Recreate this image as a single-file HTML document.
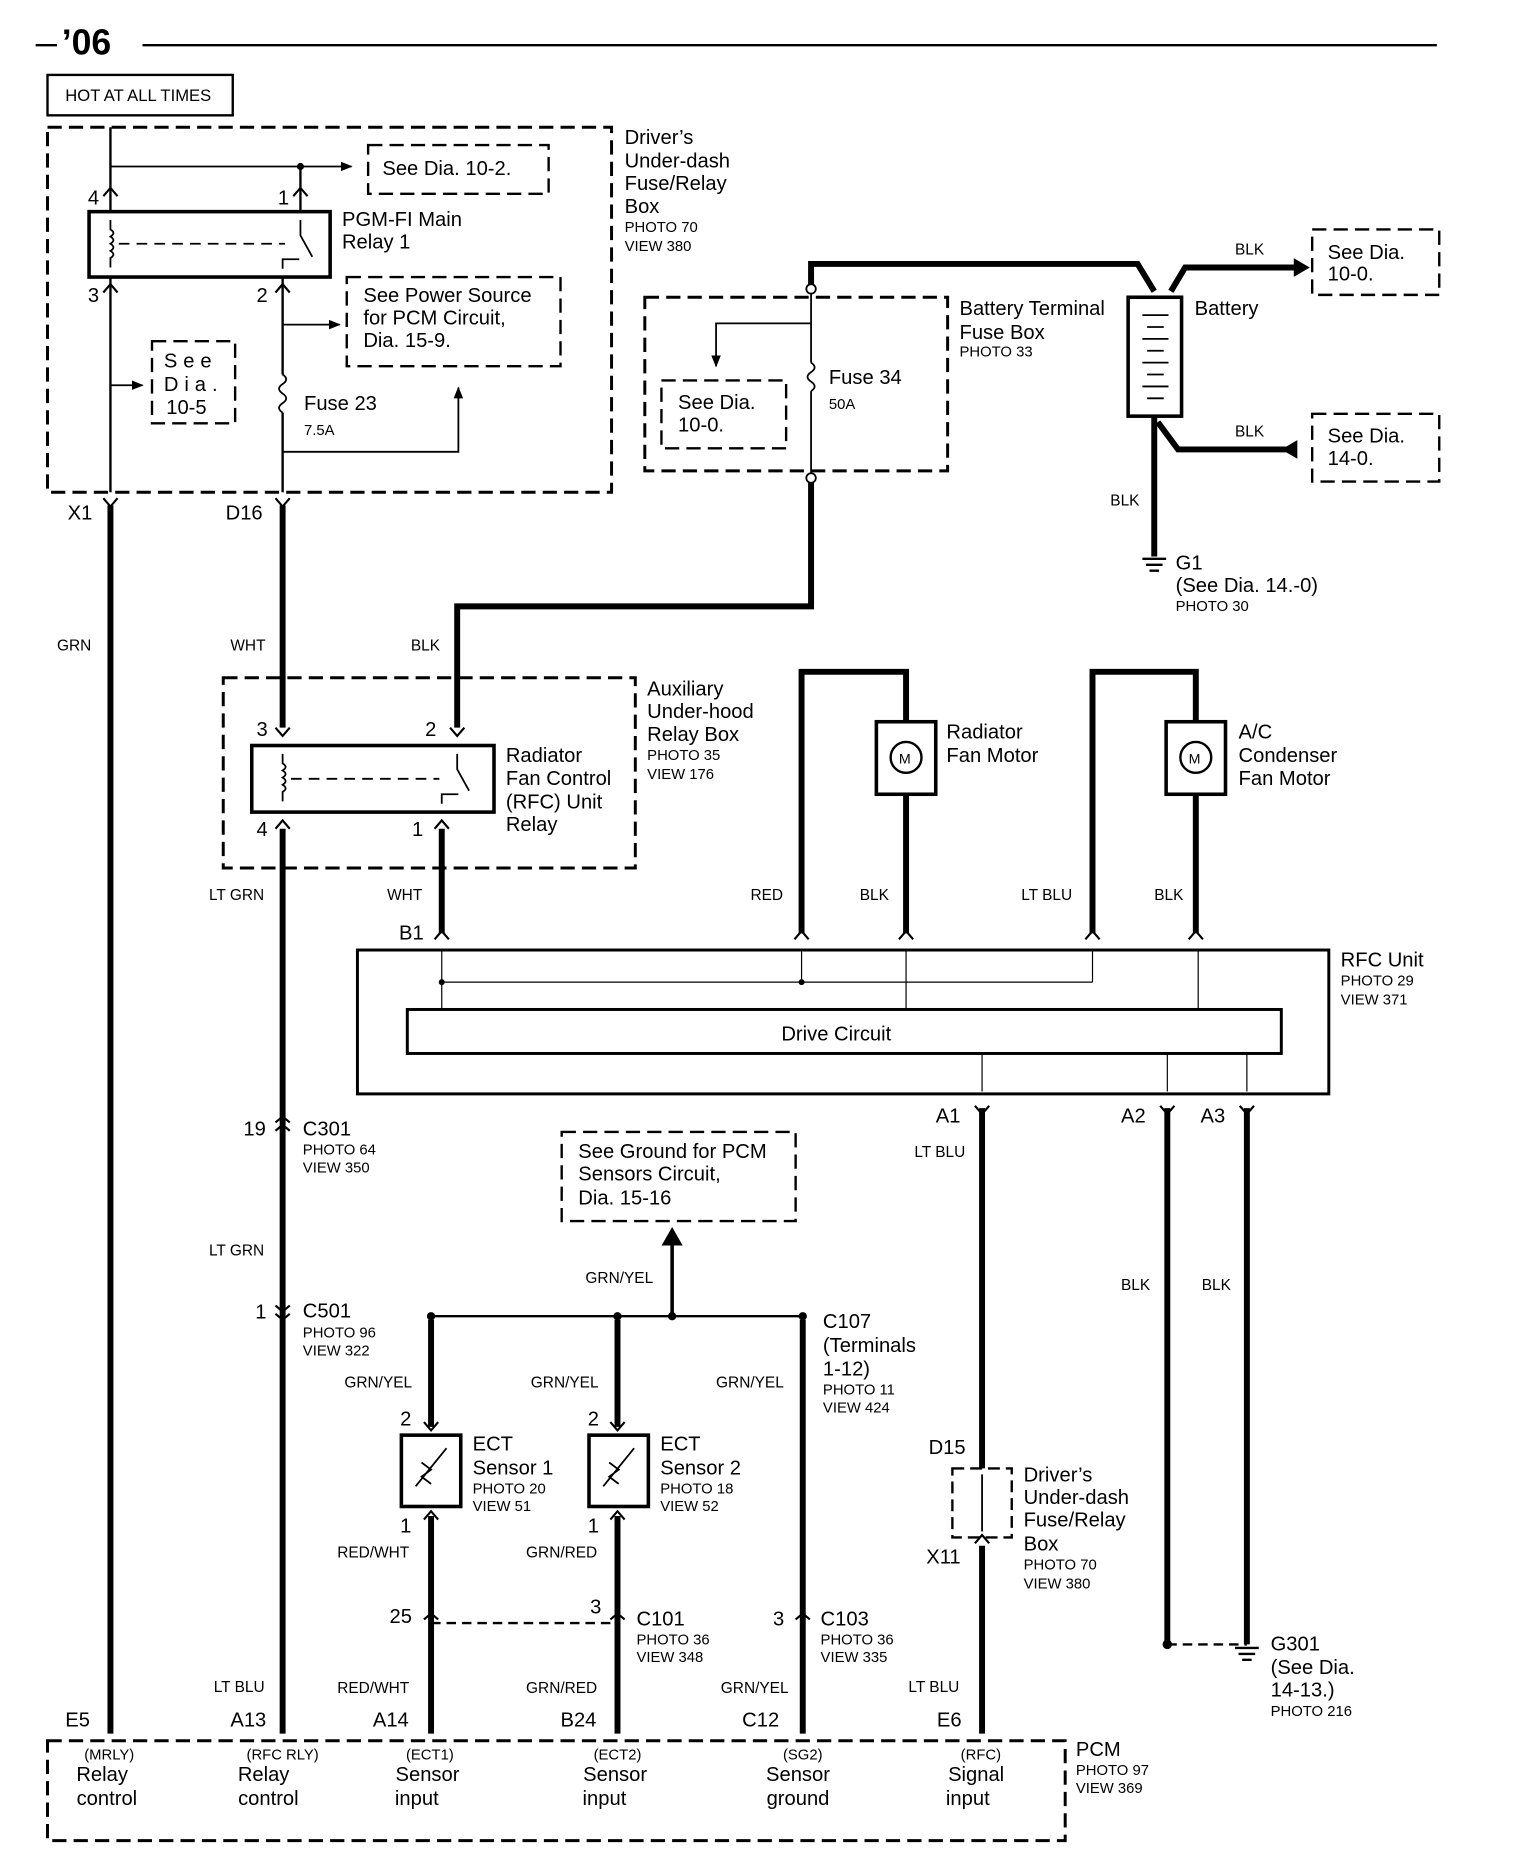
<!DOCTYPE html>
<html><head><meta charset="utf-8"><style>
html,body{margin:0;padding:0;background:#fff}
svg{display:block}
text{font-family:"Liberation Sans",sans-serif;fill:#000}
.m{font-size:17px}.s{font-size:12.5px}.w{font-size:13px}
</style></head><body>
<svg width="1520" height="1862" viewBox="0 0 1280 1566" preserveAspectRatio="none" xmlns="http://www.w3.org/2000/svg">
<defs>
<marker id="ar" markerWidth="10" markerHeight="10" refX="9" refY="5" orient="auto" markerUnits="userSpaceOnUse"><path d="M0,1 L10,5 L0,9 z"/></marker>
</defs>
<g fill="none" stroke="#000">
<line x1="30" y1="38" x2="48" y2="38" stroke-width="2"/>
<line x1="120" y1="38" x2="1210" y2="38" stroke-width="2"/>
<rect x="40" y="63" width="156" height="34" stroke-width="2"/>
<rect x="40" y="107" width="475" height="307" stroke-width="2.5" stroke-dasharray="12,6"/>
<line x1="93" y1="107" x2="93" y2="178" stroke-width="2"/>
<line x1="93" y1="140" x2="296" y2="140" stroke-width="1.5" marker-end="url(#ar)"/>
<line x1="253" y1="140" x2="253" y2="178" stroke-width="2"/>
<rect x="310" y="122" width="152" height="41" stroke-width="2" stroke-dasharray="12,6"/>
<rect x="75" y="178" width="203" height="55" stroke-width="3"/>
<line x1="100" y1="205" x2="240" y2="205" stroke-width="1.5" stroke-dasharray="9,6"/>
<path d="M93,185 v8 q5,3 0,6 q5,3 0,6 q5,3 0,6 q5,3 0,6 v8" stroke-width="1.5"/>
<path d="M253,185 v13 l10,18 M238,226 v-8 h14" stroke-width="1.5"/>
<line x1="93" y1="233" x2="93" y2="414" stroke-width="2"/>
<line x1="238" y1="233" x2="238" y2="315" stroke-width="2"/>
<path d="M238,315 q6,4 0,8 q-6,4 0,8 q6,4 0,8 q-6,4 0,8" stroke-width="1.5"/>
<line x1="238" y1="347" x2="238" y2="414" stroke-width="2"/>
<line x1="238" y1="273" x2="286" y2="273" stroke-width="1.5" marker-end="url(#ar)"/>
<rect x="292" y="233" width="180" height="75" stroke-width="2" stroke-dasharray="12,6"/>
<line x1="93" y1="324" x2="120" y2="324" stroke-width="1.5" marker-end="url(#ar)"/>
<rect x="128" y="287" width="70" height="69" stroke-width="2" stroke-dasharray="12,6"/>
<path d="M238,380 H386 V326" stroke-width="1.5" marker-end="url(#ar)"/>
<line x1="93" y1="425" x2="93" y2="1458" stroke-width="5"/>
<line x1="238" y1="425" x2="238" y2="612" stroke-width="5"/>
<line x1="238" y1="697" x2="238" y2="1458" stroke-width="5"/>
<path d="M683,243 V222 H958 L972,245" stroke-width="5"/>
<path d="M986,245 L998,225 H1090" stroke-width="5"/>
<path d="M1090,218 l12,7 l-12,7z" fill="#000"/>
<rect x="1105" y="193" width="107" height="55" stroke-width="2" stroke-dasharray="12,6"/>
<rect x="950" y="250" width="45" height="100" stroke-width="3"/>
<path d="M962,265 h22 M966,275 h14 M962,285 h22 M966,295 h14 M962,305 h22 M966,315 h14 M962,325 h22 M966,335 h14" stroke-width="1.5"/>
<line x1="972" y1="350" x2="972" y2="468" stroke-width="5"/>
<path d="M975,355 L992,378 H1092" stroke-width="5"/>
<path d="M1092,371 l-12,7 l12,7z" fill="#000"/>
<rect x="1105" y="348" width="107" height="57" stroke-width="2" stroke-dasharray="12,6"/>
<path d="M962,470 h20 M965,475 h14 M968,480 h8" stroke-width="2"/>
<rect x="543" y="250" width="255" height="146" stroke-width="2.5" stroke-dasharray="12,6"/>
<line x1="683" y1="247" x2="683" y2="305" stroke-width="1.5"/>
<path d="M683,305 q6,4 0,8 q-6,4 0,8 q6,4 0,8" stroke-width="1.5"/>
<line x1="683" y1="329" x2="683" y2="398" stroke-width="1.5"/>
<circle cx="683" cy="243" r="4" fill="#fff" stroke-width="1.5"/>
<circle cx="683" cy="402" r="4" fill="#fff" stroke-width="1.5"/>
<path d="M683,272 H603 V308" stroke-width="1.5" marker-end="url(#ar)"/>
<rect x="557" y="320" width="105" height="57" stroke-width="2" stroke-dasharray="12,6"/>
<path d="M683,406 V510 H385 V612" stroke-width="5"/>
<rect x="188" y="570" width="347" height="160" stroke-width="2.5" stroke-dasharray="12,6"/>
<rect x="212" y="627" width="204" height="56" stroke-width="3"/>
<line x1="245" y1="655" x2="370" y2="655" stroke-width="1.5" stroke-dasharray="9,6"/>
<path d="M238,634 v8 q5,3 0,6 q5,3 0,6 q5,3 0,6 q5,3 0,6 v8" stroke-width="1.5"/>
<path d="M385,634 v13 l10,18 M372,676 v-8 h14" stroke-width="1.5"/>
<line x1="372" y1="697" x2="372" y2="785" stroke-width="5"/>
<path d="M675,785 V565 H763 V607" stroke-width="5"/>
<rect x="738" y="607" width="50" height="61" stroke-width="3"/>
<circle cx="763" cy="637" r="13" stroke-width="2"/>
<line x1="763" y1="668" x2="763" y2="785" stroke-width="5"/>
<path d="M920,785 V565 H1007 V607" stroke-width="5"/>
<rect x="982" y="607" width="50" height="61" stroke-width="3"/>
<circle cx="1007" cy="637" r="13" stroke-width="2"/>
<line x1="1007" y1="668" x2="1007" y2="785" stroke-width="5"/>
<rect x="301" y="799" width="818" height="121" stroke-width="2.5"/>
<rect x="343" y="849" width="736" height="37" stroke-width="2.5"/>
<path d="M372,800 V849 M372,826 H920 M675,800 V826 M763,800 V849 M920,800 V826 M1009,800 V849" stroke-width="1"/>
<path d="M827,886 V918 M983,886 V918 M1050,886 V918" stroke-width="1"/>
<line x1="827" y1="932" x2="827" y2="1235" stroke-width="5"/>
<rect x="802" y="1235" width="50" height="58" stroke-width="2" stroke-dasharray="10,5"/>
<line x1="827" y1="1240" x2="827" y2="1288" stroke-width="1.5"/>
<line x1="827" y1="1300" x2="827" y2="1458" stroke-width="5"/>
<line x1="983" y1="932" x2="983" y2="1383" stroke-width="5"/>
<line x1="1050" y1="932" x2="1050" y2="1383" stroke-width="5"/>
<line x1="983" y1="1383" x2="1050" y2="1383" stroke-width="2" stroke-dasharray="8,5"/>
<path d="M1040,1386 h20 M1043,1391 h14 M1046,1396 h8" stroke-width="2"/>
<line x1="363" y1="1107" x2="676" y2="1107" stroke-width="2"/>
<line x1="566" y1="1107" x2="566" y2="1045" stroke-width="3"/>
<path d="M558,1047 l8,-14 l8,14z" fill="#000"/>
<rect x="473" y="952" width="197" height="75" stroke-width="2" stroke-dasharray="12,6"/>
<line x1="363" y1="1110" x2="363" y2="1200" stroke-width="5"/>
<line x1="520" y1="1110" x2="520" y2="1200" stroke-width="5"/>
<line x1="676" y1="1110" x2="676" y2="1458" stroke-width="5"/>
<rect x="338" y="1207" width="50" height="60" stroke-width="3"/>
<rect x="496" y="1207" width="50" height="60" stroke-width="3"/>
<path d="M350,1250 L376,1218 M355,1230 l8,6 l-8,6 l8,6" stroke-width="1.5"/>
<path d="M508,1250 L534,1218 M513,1230 l8,6 l-8,6 l8,6" stroke-width="1.5"/>
<line x1="363" y1="1275" x2="363" y2="1458" stroke-width="5"/>
<line x1="520" y1="1275" x2="520" y2="1458" stroke-width="5"/>
<line x1="363" y1="1365" x2="520" y2="1365" stroke-width="2" stroke-dasharray="8,5"/>
<rect x="40" y="1464" width="857" height="84" stroke-width="2.5" stroke-dasharray="12,6"/>
<path d="M87,419 l6,7 l6,-7 M232,419 l6,7 l6,-7 M87,165 l6,-7 l6,7 M247,165 l6,-7 l6,7 M87,246 l6,-7 l6,7 M232,246 l6,-7 l6,7 M232,612 l6,7 l6,-7 M379,612 l6,7 l6,-7 M232,697 l6,-7 l6,7 M366,697 l6,-7 l6,7 M366,790 l6,-7 l6,7 M669,790 l6,-7 l6,7 M757,790 l6,-7 l6,7 M914,790 l6,-7 l6,7 M1001,790 l6,-7 l6,7 M821,930 l6,7 l6,-7 M977,930 l6,7 l6,-7 M1044,930 l6,7 l6,-7 M232,944 l6,-5 l6,5 M232,951 l6,-5 l6,5 M232,1098 l6,5 l6,-5 M232,1105 l6,5 l6,-5 M357,1196 l6,7 l6,-7 M514,1196 l6,7 l6,-7 M357,1278 l6,-7 l6,7 M514,1278 l6,-7 l6,7 M357,1362 l6,-5 l6,5 M514,1362 l6,-5 l6,5 M670,1362 l6,-5 l6,5 M821,1298 l6,-7 l6,7" stroke-width="1.8"/>
</g>
<g fill="#000">
<circle cx="253" cy="140" r="3"/><circle cx="363" cy="1107" r="3.5"/><circle cx="520" cy="1107" r="3.5"/><circle cx="566" cy="1107" r="3.5"/><circle cx="676" cy="1107" r="3.5"/><circle cx="983" cy="1383" r="4"/><circle cx="372" cy="826" r="2.5"/><circle cx="675" cy="826" r="2.5"/>
</g>
<text x="52" y="46" style="font-size:30px;font-weight:bold">’06</text>
<text x="55" y="85" class="s" style="font-size:14px">HOT AT ALL TIMES</text>
<text x="526" y="121" class="m">Driver’s</text><text x="526" y="141" class="m">Under-dash</text><text x="526" y="160" class="m">Fuse/Relay</text><text x="526" y="179" class="m">Box</text>
<text x="526" y="195" class="s">PHOTO 70</text><text x="526" y="211" class="s">VIEW 380</text>
<text x="322" y="147" class="m">See Dia. 10-2.</text>
<text x="74" y="172" class="m">4</text><text x="234" y="172" class="m">1</text><text x="74" y="254" class="m">3</text><text x="216" y="254" class="m">2</text>
<text x="288" y="190" class="m">PGM-FI Main</text><text x="288" y="209" class="m">Relay 1</text>
<text x="306" y="254" class="m">See Power Source</text><text x="306" y="273" class="m">for PCM Circuit,</text><text x="306" y="292" class="m">Dia. 15-9.</text>
<text x="138" y="309" class="m" style="letter-spacing:5px">See</text><text x="138" y="329" class="m" style="letter-spacing:5px">Dia.</text><text x="140" y="348" class="m">10-5</text>
<text x="256" y="345" class="m">Fuse 23</text><text x="256" y="366" class="s">7.5A</text>
<text x="57" y="437" class="m">X1</text><text x="190" y="437" class="m">D16</text>
<text x="1040" y="214" class="w">BLK</text><text x="1118" y="218" class="m">See Dia.</text><text x="1118" y="236" class="m">10-0.</text>
<text x="808" y="265" class="m">Battery Terminal</text><text x="808" y="285" class="m">Fuse Box</text><text x="808" y="300" class="s">PHOTO 33</text>
<text x="1006" y="265" class="m">Battery</text>
<text x="698" y="323" class="m">Fuse 34</text><text x="698" y="344" class="s">50A</text>
<text x="571" y="344" class="m">See Dia.</text><text x="571" y="363" class="m">10-0.</text>
<text x="1040" y="367" class="w">BLK</text><text x="1118" y="372" class="m">See Dia.</text><text x="1118" y="391" class="m">14-0.</text>
<text x="935" y="425" class="w">BLK</text>
<text x="990" y="479" class="m">G1</text><text x="990" y="498" class="m">(See Dia. 14.-0)</text><text x="990" y="514" class="s">PHOTO 30</text>
<text x="48" y="547" class="w">GRN</text><text x="194" y="547" class="w">WHT</text><text x="346" y="547" class="w">BLK</text>
<text x="545" y="585" class="m">Auxiliary</text><text x="545" y="604" class="m">Under-hood</text><text x="545" y="623" class="m">Relay Box</text><text x="545" y="639" class="s">PHOTO 35</text><text x="545" y="655" class="s">VIEW 176</text>
<text x="216" y="619" class="m">3</text><text x="358" y="619" class="m">2</text><text x="216" y="703" class="m">4</text><text x="347" y="703" class="m">1</text>
<text x="426" y="641" class="m">Radiator</text><text x="426" y="660" class="m">Fan Control</text><text x="426" y="680" class="m">(RFC) Unit</text><text x="426" y="699" class="m">Relay</text>
<text x="797" y="621" class="m">Radiator</text><text x="797" y="641" class="m">Fan Motor</text>
<text x="1043" y="621" class="m">A/C</text><text x="1043" y="641" class="m">Condenser</text><text x="1043" y="660" class="m">Fan Motor</text>
<text x="757" y="642" style="font-size:12px">M</text><text x="1001" y="642" style="font-size:12px">M</text>
<text x="176" y="757" class="w">LT GRN</text><text x="326" y="757" class="w">WHT</text><text x="632" y="757" class="w">RED</text><text x="724" y="757" class="w">BLK</text><text x="860" y="757" class="w">LT BLU</text><text x="972" y="757" class="w">BLK</text>
<text x="336" y="790" class="m">B1</text>
<text x="1129" y="813" class="m">RFC Unit</text><text x="1129" y="829" class="s">PHOTO 29</text><text x="1129" y="845" class="s">VIEW 371</text>
<text x="658" y="875" class="m">Drive Circuit</text>
<text x="788" y="944" class="m">A1</text><text x="944" y="944" class="m">A2</text><text x="1011" y="944" class="m">A3</text>
<text x="205" y="955" class="m">19</text><text x="255" y="955" class="m">C301</text><text x="255" y="971" class="s">PHOTO 64</text><text x="255" y="986" class="s">VIEW 350</text>
<text x="487" y="974" class="m">See Ground for PCM</text><text x="487" y="993" class="m">Sensors Circuit,</text><text x="487" y="1013" class="m">Dia. 15-16</text>
<text x="770" y="973" class="w">LT BLU</text>
<text x="176" y="1056" class="w">LT GRN</text><text x="493" y="1079" class="w">GRN/YEL</text>
<text x="944" y="1085" class="w">BLK</text><text x="1012" y="1085" class="w">BLK</text>
<text x="215" y="1109" class="m">1</text><text x="255" y="1108" class="m">C501</text><text x="255" y="1125" class="s">PHOTO 96</text><text x="255" y="1140" class="s">VIEW 322</text>
<text x="693" y="1117" class="m">C107</text><text x="693" y="1137" class="m">(Terminals</text><text x="693" y="1157" class="m">1-12)</text><text x="693" y="1173" class="s">PHOTO 11</text><text x="693" y="1188" class="s">VIEW 424</text>
<text x="290" y="1167" class="w">GRN/YEL</text><text x="447" y="1167" class="w">GRN/YEL</text><text x="603" y="1167" class="w">GRN/YEL</text>
<text x="337" y="1199" class="m">2</text><text x="495" y="1199" class="m">2</text>
<text x="398" y="1220" class="m">ECT</text><text x="398" y="1240" class="m">Sensor 1</text><text x="398" y="1256" class="s">PHOTO 20</text><text x="398" y="1271" class="s">VIEW 51</text>
<text x="556" y="1220" class="m">ECT</text><text x="556" y="1240" class="m">Sensor 2</text><text x="556" y="1256" class="s">PHOTO 18</text><text x="556" y="1271" class="s">VIEW 52</text>
<text x="782" y="1223" class="m">D15</text>
<text x="862" y="1246" class="m">Driver’s</text><text x="862" y="1265" class="m">Under-dash</text><text x="862" y="1284" class="m">Fuse/Relay</text><text x="862" y="1304" class="m">Box</text><text x="862" y="1320" class="s">PHOTO 70</text><text x="862" y="1336" class="s">VIEW 380</text>
<text x="337" y="1289" class="m">1</text><text x="495" y="1289" class="m">1</text><text x="780" y="1315" class="m">X11</text>
<text x="284" y="1310" class="w">RED/WHT</text><text x="443" y="1310" class="w">GRN/RED</text>
<text x="328" y="1365" class="m">25</text><text x="497" y="1357" class="m">3</text><text x="536" y="1367" class="m">C101</text><text x="536" y="1383" class="s">PHOTO 36</text><text x="536" y="1398" class="s">VIEW 348</text>
<text x="651" y="1367" class="m">3</text><text x="691" y="1367" class="m">C103</text><text x="691" y="1383" class="s">PHOTO 36</text><text x="691" y="1398" class="s">VIEW 335</text>
<text x="1070" y="1388" class="m">G301</text><text x="1070" y="1408" class="m">(See Dia.</text><text x="1070" y="1427" class="m">14-13.)</text><text x="1070" y="1443" class="s">PHOTO 216</text>
<text x="180" y="1423" class="w">LT BLU</text><text x="284" y="1424" class="w">RED/WHT</text><text x="443" y="1424" class="w">GRN/RED</text><text x="607" y="1424" class="w">GRN/YEL</text><text x="765" y="1423" class="w">LT BLU</text>
<text x="55" y="1452" class="m">E5</text><text x="194" y="1452" class="m">A13</text><text x="314" y="1452" class="m">A14</text><text x="472" y="1452" class="m">B24</text><text x="625" y="1452" class="m">C12</text><text x="789" y="1452" class="m">E6</text>
<text x="906" y="1477" class="m">PCM</text><text x="906" y="1493" class="s">PHOTO 97</text><text x="906" y="1508" class="s">VIEW 369</text>
<g text-anchor="middle">
<text x="92" y="1480" class="s">(MRLY)</text><text x="238" y="1480" class="s">(RFC RLY)</text><text x="362" y="1480" class="s">(ECT1)</text><text x="520" y="1480" class="s">(ECT2)</text><text x="676" y="1480" class="s">(SG2)</text><text x="826" y="1480" class="s">(RFC)</text>
<text x="86" y="1498" class="m">Relay</text><text x="90" y="1518" class="m">control</text>
<text x="222" y="1498" class="m">Relay</text><text x="226" y="1518" class="m">control</text>
<text x="360" y="1498" class="m">Sensor</text><text x="351" y="1518" class="m">input</text>
<text x="518" y="1498" class="m">Sensor</text><text x="509" y="1518" class="m">input</text>
<text x="672" y="1498" class="m">Sensor</text><text x="672" y="1518" class="m">ground</text>
<text x="822" y="1498" class="m">Signal</text><text x="815" y="1518" class="m">input</text>
</g>
</svg>
</body></html>
